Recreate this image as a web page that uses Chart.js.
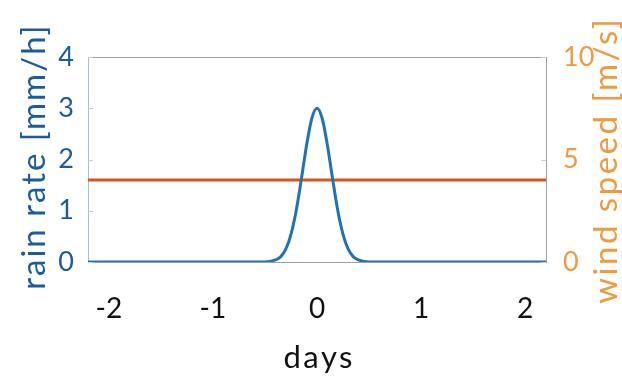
<!DOCTYPE html>
<html>
<head>
<meta charset="utf-8">
<script src="https://cdn.jsdelivr.net/npm/chart.js@4/dist/chart.umd.min.js"></script>
<style>
  html, body { margin: 0; padding: 0; background: #fff; }
  #wrap { width: 622px; height: 378px; }
</style>
</head>
<body>
<div id="wrap"><canvas id="c" width="622" height="378"></canvas></div>
<script>
// values
const days = [-2.2, -0.5, -0.45, -0.4, -0.35, -0.3, -0.25, -0.2, -0.15, -0.1, -0.05, 0, 0.05, 0.1, 0.15, 0.2, 0.25, 0.3, 0.35, 0.4, 0.45, 0.5, 2.2];
const rainRate = [0, 0, 0.01, 0.04, 0.1, 0.25, 0.54, 1.0, 1.62, 2.28, 2.8, 3.0, 2.8, 2.28, 1.62, 1.0, 0.54, 0.25, 0.1, 0.04, 0.01, 0, 0];
const windDays = [-2.2, 2.2];
const windSpeed = [4, 4];
const dayTicks = [-2, -1, 0, 1, 2];

const blue = '#2272b4';
const blueText = '#1c5c9e';
const orangeLine = '#d9541b';
const orangeText = '#f09a3e';
const font = 'Lato, "Open Sans", sans-serif';

// the reference font is wide, so titles get drawn here with a little letter spacing
function title(ctx, text, x, y, angle, color, size, spacing) {
  ctx.save();
  ctx.translate(x, y);
  ctx.rotate(angle);
  ctx.fillStyle = color;
  ctx.font = size + 'px ' + font;
  ctx.letterSpacing = spacing + 'px';
  ctx.textAlign = 'center';
  ctx.textBaseline = 'middle';
  ctx.fillText(text, spacing / 2, 0);
  ctx.restore();
}

const frame = {
  id: 'frame',
  afterDraw(chart) {
    const { ctx, chartArea: a, scales } = chart;
    ctx.save();
    ctx.strokeStyle = '#a0a0a0';
    ctx.lineWidth = 1;
    ctx.beginPath();
    ctx.moveTo(a.left, a.top + 0.5);
    ctx.lineTo(a.right, a.top + 0.5);
    ctx.stroke();

    ctx.strokeStyle = '#c8d0d4';
    ctx.beginPath();
    scales.y.ticks.forEach((t) => {
      const py = Math.round(scales.y.getPixelForValue(t.value)) + 0.5;
      ctx.moveTo(a.left, py);
      ctx.lineTo(a.left + 5, py);
    });
    scales.y2.ticks.forEach((t) => {
      const py = Math.round(scales.y2.getPixelForValue(t.value)) + 0.5;
      ctx.moveTo(a.right, py);
      ctx.lineTo(a.right - 5, py);
    });
    ctx.stroke();
    ctx.restore();

    const midY = (a.top + a.bottom) / 2;
    title(ctx, 'rain rate [mm/h]', 34, midY - 2, -Math.PI / 2, blueText, 33, 2);
    title(ctx, 'wind speed [m/s]', 606, midY + 2, -Math.PI / 2, orangeText, 33, 2.5);
    title(ctx, 'days', (a.left + a.right) / 2 + 1, 358, 0, '#111', 31, 2.5);
  }
};

new Chart(document.getElementById('c'), {
  type: 'line',
  data: {
    datasets: [
      {
        label: 'rain rate',
        data: days.map((d, i) => ({ x: d, y: rainRate[i] })),
        borderColor: blue,
        borderWidth: 3,
        pointRadius: 0,
        cubicInterpolationMode: 'monotone',
        yAxisID: 'y',
        order: 1
      },
      {
        label: 'wind speed',
        data: windDays.map((d, i) => ({ x: d, y: windSpeed[i] })),
        borderColor: orangeLine,
        borderWidth: 3,
        pointRadius: 0,
        yAxisID: 'y2',
        order: 2
      }
    ]
  },
  options: {
    responsive: false,
    animation: false,
    layout: { padding: { top: 57, right: 0, left: 12, bottom: 0 } },
    plugins: { legend: { display: false }, tooltip: { enabled: false } },
    scales: {
      x: {
        type: 'linear',
        min: -2.2,
        max: 2.2,
        afterBuildTicks: (s) => { s.ticks = dayTicks.map((v) => ({ value: v })); },
        afterFit: (s) => { s.height = 116; },
        ticks: { includeBounds: false, color: '#111', font: { family: font, size: 28 }, padding: 22 },
        grid: { display: false },
        border: { color: '#a0a0a0' }
      },
      y: {
        position: 'left',
        min: 0,
        max: 4,
        afterFit: (s) => { s.width = 76; },
        ticks: { stepSize: 1, color: blueText, font: { family: font, size: 27 }, padding: 6 },
        grid: { display: false },
        border: { color: '#a9c0cc' }
      },
      y2: {
        position: 'right',
        min: 0,
        max: 10,
        afterFit: (s) => { s.width = 76; },
        ticks: { stepSize: 5, color: orangeText, font: { family: font, size: 27 }, padding: 9 },
        grid: { display: false },
        border: { color: '#a0a0a0' }
      }
    }
  },
  plugins: [frame]
});
</script>
</body>
</html>
